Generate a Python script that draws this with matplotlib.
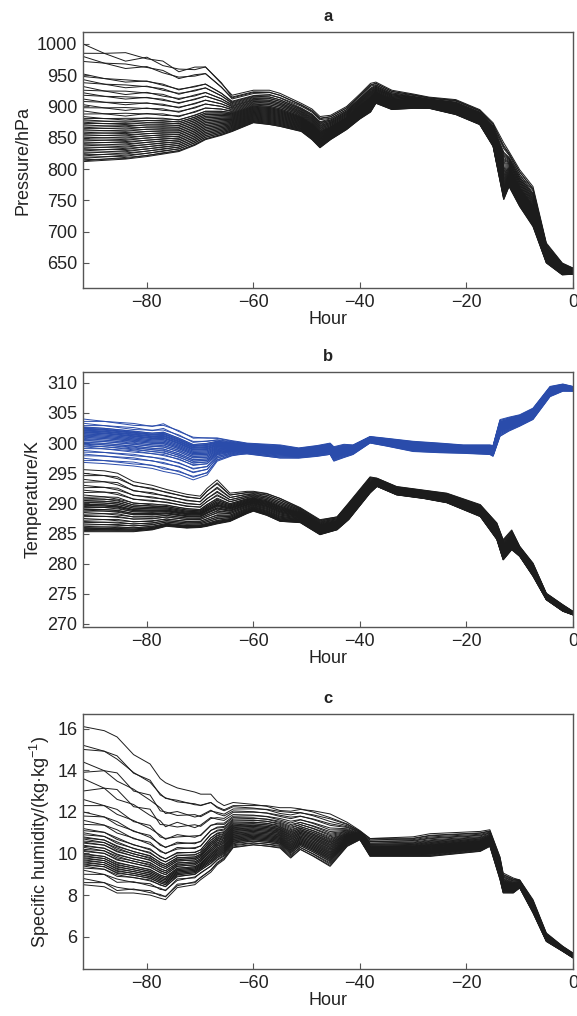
import numpy as np
import matplotlib
matplotlib.use("Agg")
import matplotlib.pyplot as plt

plt.rcParams['font.family'] = ['Liberation Sans', 'DejaVu Sans']

# ---------------- Panel a : pressure ----------------
HOURS_A = [-92, -88, -84, -80, -77, -74, -71, -69, -66, -64, -60, -57, -55, -51, -49, -47.5,
           -45.5, -42.5, -40, -38, -37, -34, -30, -27, -22, -17.5, -15, -13, -12, -10, -7.5,
           -5, -2, 0]
UPPER_A = [1000, 992, 986, 984, 975, 963, 966, 968, 940, 918, 926, 926, 921, 905, 896, 884,
           886, 900, 920, 937, 939, 926, 920, 915, 911, 895, 874, 842, 828, 799, 772,
           682, 650, 642]
LOWER_A = [812, 814, 816, 820, 824, 828, 838, 847, 854, 860, 874, 871, 868, 860, 847, 834,
           847, 863, 880, 891, 905, 895, 897, 897, 887, 871, 836, 751, 772, 740, 708,
           650, 631, 632]
STAGE_A = [0, 0.5, 0, 0.6, 0.2, 0.7, 0.3, 0.5, 1.5, 2, 2, 2.3, 2.6, 3, 3, 3,
           2.7, 2.4, 2, 2, 2.3, 2.6, 3, 3, 3, 3, 2.5, 2, 2, 2.5, 3,
           3, 3, 3]
START_A = [1000, 985, 980, 972, 952, 948, 943, 938, 932, 926, 922, 918, 912, 908, 903, 898,
           893, 888, 884, 881, 879, 877, 875, 873, 871, 869, 867, 865, 863, 861, 859, 857,
           855, 853, 851, 849, 847, 845, 843, 841, 839, 837, 835, 833, 831, 829, 827, 825,
           823, 821, 819, 817, 815, 813, 812]

# ---------------- Panel b : temperature (black) ----------------
HOURS_BK = [-92, -88, -85.5, -82.5, -79, -76.3, -72.5, -70, -68.7, -66.8, -64.4, -61.2, -60,
            -57.5, -55, -51.2, -47.5, -44.3, -42.1, -38.1, -36.8, -33.1, -28, -23.7, -17.4,
            -14.3, -13.1, -11.5, -10, -7.5, -5, -1.9, 0]
UPPER_BK = [295.6, 295.4, 295.0, 293.6, 293.0, 292.3, 291.5, 291.2, 292.5, 293.9, 291.7, 292.0,
            292.0, 291.7, 290.9, 289.3, 287.3, 287.8, 290.1, 294.4, 294.2, 292.8, 292.2, 291.7,
            289.8, 286.8, 284.0, 285.6, 282.9, 280.1, 275.1, 273.2, 272.1]
LOWER_BK = [285.3, 285.3, 285.3, 285.3, 285.6, 286.2, 285.9, 286.0, 286.2, 286.6, 287.0, 288.3,
            288.7, 288.0, 287.0, 286.8, 284.8, 285.6, 287.3, 291.7, 292.8, 291.4, 290.8, 290.1,
            287.8, 284.0, 280.6, 282.3, 281.2, 277.9, 274.0, 272.1, 271.5]
STAGE_BK = [0, 0.5, 0.1, 0.6, 0.2, 0.7, 0.3, 0.6, 0.4, 0.8, 1.5, 1.85, 2,
            2.3, 2.6, 3, 3, 2.5, 2, 2, 2.4, 3, 3, 3, 3,
            2.5, 2, 2, 2.5, 3, 3, 3, 3]
START_BK = [295.6, 295.0, 294.6, 294.0, 293.5, 293.0, 292.6, 292.2, 291.8, 291.4, 291.0, 290.9,
            290.7, 290.5, 290.4, 290.2, 290.1, 289.9, 289.8, 289.7, 289.6, 289.5, 289.3, 289.1,
            289.0, 288.9, 288.7, 288.5, 288.2, 288.0, 287.8, 287.5, 287.2, 287.0, 286.8, 286.6,
            286.4, 286.2, 286.0, 285.9, 285.8, 285.7, 285.6, 285.5, 285.4, 285.3]

# ---------------- Panel b : temperature (blue) ----------------
HOURS_BL = [-92, -88, -82.5, -79, -76.9, -74, -71.3, -68.7, -66.8, -64, -62.5, -61.2, -55,
            -51.5, -48, -45.6, -44.9, -43, -41.3, -38.1, -35, -30, -25, -20.6, -15.6, -15,
            -13.7, -12, -10, -7.5, -4.3, -1.9, 0]
UPPER_BL = [304.0, 303.8, 303.3, 303.0, 303.3, 302.2, 301.1, 301.0, 300.9, 300.4, 300.2, 300.0,
            299.7, 299.2, 299.6, 300.0, 299.4, 299.8, 299.7, 301.1, 300.8, 300.3, 300.0, 299.7,
            299.7, 299.6, 303.9, 304.3, 304.7, 305.8, 309.4, 309.8, 309.4]
LOWER_BL = [296.8, 296.6, 296.2, 295.8, 295.3, 294.8, 293.9, 294.7, 297.0, 297.9, 298.1, 298.2,
            297.5, 297.5, 297.8, 298.1, 297.0, 297.6, 298.1, 300.0, 299.5, 298.6, 298.4, 298.3,
            298.1, 297.8, 301.1, 302.0, 302.8, 303.9, 307.7, 308.6, 308.6]
STAGE_BL = [0, 0.5, 0.1, 0.6, 0.2, 0.7, 0.3, 1.5, 1.8, 2, 2, 2, 2.5,
            3, 3, 2.5, 2, 2, 2, 2.5, 3, 3, 3, 3, 3, 3,
            2.5, 2, 2, 2.5, 3, 3, 3]
START_BL = [304.0, 303.6, 303.3, 302.9, 302.7, 302.6, 302.5, 302.45, 302.4, 302.3, 302.2,
            302.15, 302.1, 302.0, 301.9, 301.85, 301.8, 301.7, 301.6, 301.5, 301.4, 301.3,
            301.2, 301.1, 301.0, 300.9, 300.8, 300.6, 300.5, 300.4, 300.2, 300.1, 300.0,
            299.8, 299.7, 299.5, 299.4, 299.1, 298.8, 298.5, 298.2, 297.9, 297.5, 297.1, 296.8]

# ---------------- Panel c : specific humidity ----------------
HOURS_C = [-92, -88, -85.6, -82.5, -79.4, -77.5, -76.5, -74.3, -71, -69.9, -68, -66.8, -65.5,
           -63.8, -60, -57.5, -55, -53, -51.2, -48.8, -45.6, -42.4, -40, -38.1, -30, -26.8,
           -17.4, -15.6, -13.7, -13.1, -11.2, -10, -7.5, -5, -1.9, 0]
UPPER_C = [16.1, 15.9, 15.6, 14.75, 14.3, 13.6, 13.4, 13.15, 12.95, 12.85, 12.85, 12.5, 12.3,
           12.45, 12.4, 12.35, 12.2, 12.2, 12.2, 12.1, 11.9, 11.5, 11.1, 10.75, 10.8, 10.95,
           11.06, 11.14, 9.86, 9.06, 8.82, 8.74, 7.78, 6.18, 5.54, 5.22]
LOWER_C = [8.5, 8.4, 8.1, 8.1, 8.0, 7.85, 7.78, 8.36, 8.5, 8.74, 9.1, 9.46, 9.7,
           10.28, 10.4, 10.34, 10.26, 9.78, 10.18, 9.86, 9.38, 10.34, 10.66, 9.86, 9.86, 9.86,
           10.1, 10.34, 8.74, 8.1, 8.1, 8.34, 7.14, 5.77, 5.29, 4.98]
STAGE_C = [0, 0.5, 0.1, 0.6, 0.2, 0.7, 0.4, 0.8, 0.3, 0.6, 1.5, 1.8, 1.9,
           2, 2.3, 2.6, 3, 3, 2.6, 2.3, 2, 2, 2, 2.5, 3, 3,
           3, 3, 2.5, 2, 2, 2.5, 3, 3, 3, 3]
START_C = [16.1, 15.2, 15.0, 14.4, 13.9, 13.6, 13.0, 12.6, 12.3, 12.0, 11.8, 11.6, 11.4, 11.2,
           11.1, 11.0, 10.9, 10.8, 10.75, 10.7, 10.6, 10.55, 10.5, 10.4, 10.35, 10.3, 10.2,
           10.15, 10.1, 10.0, 9.95, 9.9, 9.85, 9.8, 9.75, 9.7, 9.65, 9.6, 9.55, 9.5, 9.45,
           9.4, 9.3, 9.2, 9.0, 8.8, 8.6, 8.5]

BLACK = '#1c1c1c'
BLUE = '#2a4cab'


def draw_bundle(ax, hours, upper, lower, stage, starts, color, lw=0.7):
    h = np.asarray(hours, float)
    up = np.asarray(upper, float)
    lo = np.asarray(lower, float)
    st = np.asarray(stage, float)
    s = np.asarray(starts, float)
    n = len(s)
    by_rank = np.argsort(s)
    rank = np.argsort(by_rank)
    early = (s - lo[0]) / (up[0] - lo[0])
    # early stage: neighbouring trajectories drift towards each other
    partner0 = np.clip(((rank + 1) ^ 1) - 1, 0, n - 1)
    early_sw = early[by_rank[partner0]]
    late1 = 0.5 * early + 0.5 * rank / (n - 1)
    # bundle stage: neighbouring trajectories swap places
    partner1 = np.minimum(rank ^ 1, n - 1)
    late2 = late1[by_rank[partner1]]
    levels = np.vstack([early, early_sw, late1, late2])
    k = np.clip(np.floor(st).astype(int), 0, 2)
    w = st - k
    for i in range(n):
        f = levels[k, i] * (1 - w) + levels[k + 1, i] * w
        ax.plot(h, lo + f * (up - lo), color=color, lw=lw, solid_joinstyle='miter')


def style(ax, ylim, yticks, ylabel, title):
    ax.set_xlim(-92, 0)
    ax.set_ylim(*ylim)
    ax.set_xticks([-80, -60, -40, -20, 0])
    ax.set_xticklabels(['\u221280', '\u221260', '\u221240', '\u221220', '0'])
    ax.set_yticks(yticks)
    ax.tick_params(direction='in', length=4, width=0.8, colors='#555555',
                   labelcolor='#222222', labelsize=13, pad=4)
    for sp in ax.spines.values():
        sp.set_color('#555555')
        sp.set_linewidth(1.0)
    ax.set_xlabel('Hour', fontsize=13, color='#222222', labelpad=0)
    ax.set_ylabel(ylabel, fontsize=13, color='#222222', labelpad=4)
    ax.set_title(title, fontsize=12, fontweight='bold', color='#222222', pad=8)


fig = plt.figure(figsize=(5.77, 10.16), dpi=100)
L, W = 0.1438, 0.8492
ax_a = fig.add_axes([L, 0.7165, W, 0.2520])
ax_b = fig.add_axes([L, 0.3829, W, 0.2510])
ax_c = fig.add_axes([L, 0.0463, W, 0.2509])

draw_bundle(ax_a, HOURS_A, UPPER_A, LOWER_A, STAGE_A, START_A, BLACK)
style(ax_a, (610, 1019), [650, 700, 750, 800, 850, 900, 950, 1000], 'Pressure/hPa', 'a')

draw_bundle(ax_b, HOURS_BK, UPPER_BK, LOWER_BK, STAGE_BK, START_BK, BLACK)
draw_bundle(ax_b, HOURS_BL, UPPER_BL, LOWER_BL, STAGE_BL, START_BL, BLUE)
style(ax_b, (269.5, 311.8), [270, 275, 280, 285, 290, 295, 300, 305, 310], 'Temperature/K', 'b')

draw_bundle(ax_c, HOURS_C, UPPER_C, LOWER_C, STAGE_C, START_C, BLACK)
style(ax_c, (4.45, 16.7), [6, 8, 10, 12, 14, 16],
      'Specific humidity/(kg\u00b7kg$^{\\mathregular{-1}}$)', 'c')

fig.savefig('out.png', dpi=100)
